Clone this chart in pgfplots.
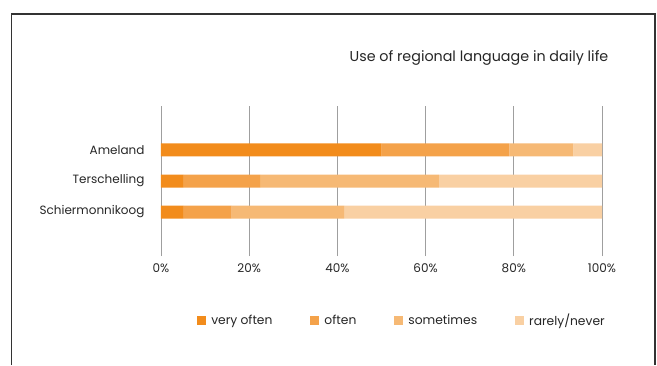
\documentclass[border=0pt]{standalone}
\usepackage{pgfplots}
\pgfplotsset{compat=1.18}
\usepackage{fontspec}
\setmainfont{Poppins}
\definecolor{c1}{HTML}{F28C1C}
\definecolor{c2}{HTML}{F4A24A}
\definecolor{c3}{HTML}{F6B975}
\definecolor{c4}{HTML}{F9D0A3}
\begin{document}
\begin{tikzpicture}[x=1pt,y=1pt]
\useasboundingbox (0,0) rectangle (657,365);
\draw[line width=1.3pt, color=black!80] (11.5,0) -- (11.5,351) -- (655,351) -- (655,0);
\node[font=\fontsize{14.3}{17}\selectfont, text=black!85] at (479,307.5) {Use of regional language in daily life};
\begin{axis}[
  at={(161pt,109pt)}, anchor=south west,
  scale only axis, width=441pt, height=150pt,
  xbar stacked, bar width=13pt,
  xmin=0, xmax=100, ymin=-1.419, ymax=3.419,
  ytick={0,1,2}, yticklabels={Schiermonnikoog,Terschelling,Ameland},
  xtick={0,20,...,100},
  xticklabel={\pgfmathprintnumber[assume math mode=true]{\tick}\%},
  xmajorgrids, grid style={gray!75, line width=0.8pt},
  axis line style={draw=none}, major tick length=0pt,
  tick label style={font=\fontsize{12}{14}\selectfont, text=black!85},
  xticklabel style={yshift=-4pt},
  yticklabel style={xshift=-13pt},
  legend columns=4,
  legend style={draw=none, at={(0.5465,-0.433)}, anchor=center,
    font=\fontsize{12.3}{14}\selectfont, text=black!85,
    /tikz/every odd column/.append style={column sep=3pt},
    /tikz/every even column/.append style={column sep=36pt}},
  legend image code/.code={\fill[#1] (0pt,-4.5pt) rectangle (9pt,4.5pt);},
]
\addplot[fill=c1, draw=none] coordinates {(5,0) (5,1) (50,2)};
\addplot[fill=c2, draw=none] coordinates {(11,0) (17.5,1) (29,2)};
\addplot[fill=c3, draw=none] coordinates {(25.5,0) (40.5,1) (14.5,2)};
\addplot[fill=c4, draw=none] coordinates {(58.5,0) (37,1) (6.5,2)};
\legend{very often, often, sometimes, rarely/never}
\end{axis}
\end{tikzpicture}
\end{document}
